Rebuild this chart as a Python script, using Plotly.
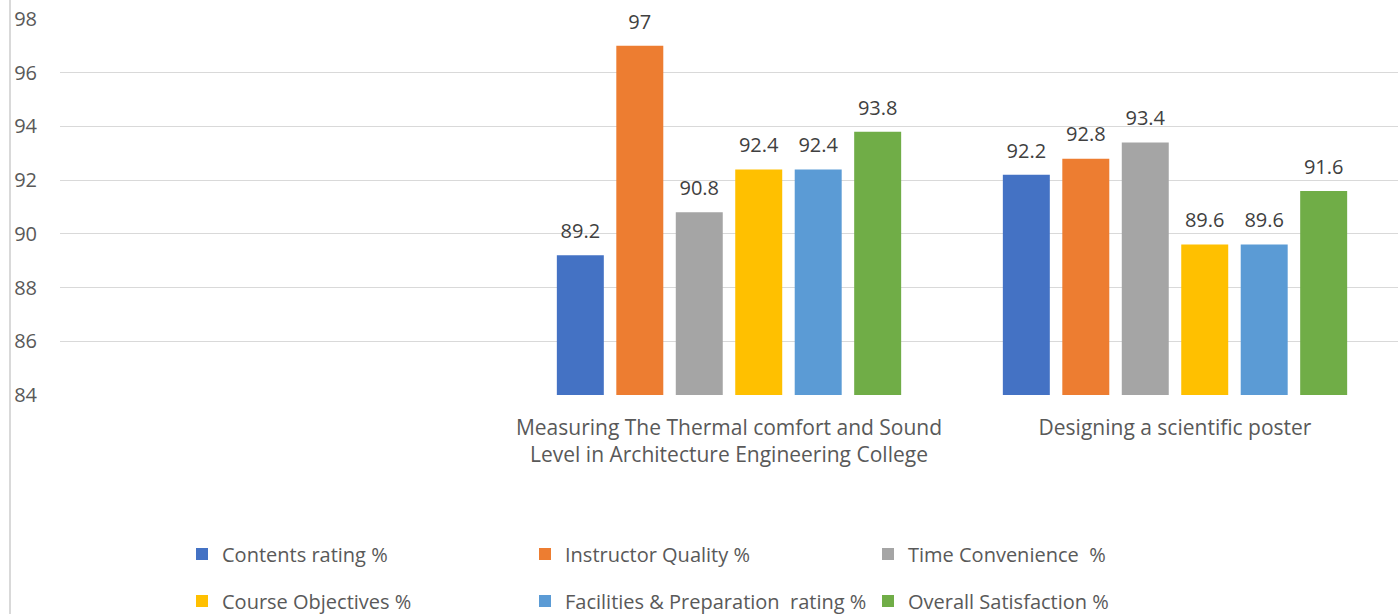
import plotly.graph_objects as go

categories = [" ",
              "Measuring The Thermal comfort and Sound<br>Level in Architecture Engineering College",
              "Designing a scientific poster"]
series_names = ["Contents rating %", "Instructor Quality %", "Time Convenience  %",
                "Course Objectives %", "Facilities & Preparation  rating %", "Overall Satisfaction %"]
contents = [None, 89.2, 92.2]
instructor = [None, 97, 92.8]
time_conv = [None, 90.8, 93.4]
objectives = [None, 92.4, 89.6]
facilities = [None, 92.4, 89.6]
overall = [None, 93.8, 91.6]
y_ticks = [84, 86, 88, 90, 92, 94, 96, 98]

series_values = [contents, instructor, time_conv, objectives, facilities, overall]
colors = ["#4472C4", "#ED7D31", "#A5A5A5", "#FFC000", "#5B9BD5", "#70AD47"]

W, H = 1400, 614
L, R, T, B = 60, 2, 19, 219
pw, ph = W - L - R, H - T - B

def px_x(p):
    return (p - L) / pw

def px_y(p):
    return (H - B - p) / ph

def cont_y(p):
    return (H - p) / H

fig = go.Figure()
for i, (name, vals, col) in enumerate(zip(series_names, series_values, colors)):
    fig.add_trace(go.Bar(
        x=categories, y=vals, name=name,
        marker=dict(color=col, line=dict(width=0)),
        offsetgroup=str(i), alignmentgroup="a",
        legend="legend" if i < 3 else "legend2",
    ))
for i, vals in enumerate(series_values):
    fig.add_trace(go.Scatter(
        x=categories, y=vals, mode="markers+text",
        marker=dict(size=18, opacity=0),
        text=[None if v is None else f"{v:g}" for v in vals],
        textposition="top center", cliponaxis=False,
        textfont=dict(family="Open Sans", size=20, color="#404040"),
        offsetgroup=str(i), alignmentgroup="a",
        showlegend=False, hoverinfo="skip",
    ))

legend_common = dict(
    orientation="h", xanchor="left", yanchor="middle", yref="container",
    entrywidth=298, entrywidthmode="pixels", itemwidth=30,
    font=dict(family="Open Sans", size=20, color="#595959"),
    bgcolor="rgba(0,0,0,0)", traceorder="normal",
)

fig.update_layout(
    width=W, height=H,
    margin=dict(l=L, r=R, t=T, b=B, pad=0),
    paper_bgcolor="white", plot_bgcolor="white",
    barmode="group", bargap=0.2, bargroupgap=0.21,
    scattermode="group", scattergap=0.2,
    font=dict(family="Open Sans", size=20, color="#595959"),
    xaxis=dict(type="category", categoryorder="array", categoryarray=categories,
               showgrid=False, showline=False, zeroline=False, ticks="",
               tickfont=dict(family="Open Sans", size=21, color="#595959"),
               ticklabelstandoff=18),
    yaxis=dict(range=[84, 98], tickvals=y_ticks, showgrid=True, gridcolor="#d9d9d9",
               gridwidth=1, showline=False, zeroline=False, ticks="",
               tickfont=dict(family="Open Sans", size=20, color="#595959"),
               ticklabelstandoff=22),
    legend=dict(x=px_x(182), y=cont_y(554), **legend_common),
    legend2=dict(x=px_x(182), y=cont_y(601), **legend_common),
    shapes=[dict(type="line", xref="paper", yref="paper",
                 x0=px_x(10), x1=px_x(10), y0=px_y(H), y1=px_y(0),
                 line=dict(color="#d9d9d9", width=2))],
    showlegend=True,
)

fig.write_html("out.html", config={"displayModeBar": False},
               post_script="document.body.style.margin='0';document.body.style.overflow='hidden';")
